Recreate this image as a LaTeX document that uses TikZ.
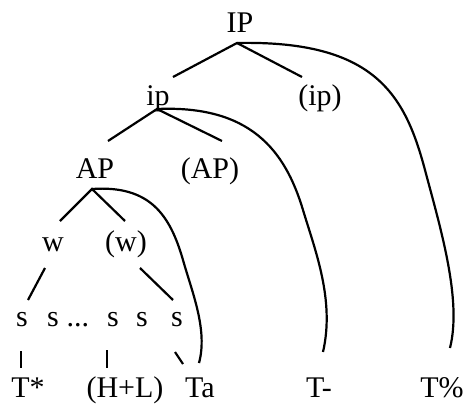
\documentclass[tikz,border=0pt]{standalone}
\usepackage{fontspec}
\setmainfont{Liberation Serif}
\begin{document}
\begin{tikzpicture}[x=1pt, y=-1pt,
  lbl/.style={anchor=base, inner sep=0pt, font=\fontsize{30}{35}\selectfont},
  branch/.style={draw=black, line width=2.2pt},
  tune/.style={draw=black, line width=2.2pt}]
\useasboundingbox (0,0) rectangle (467,407);

% prosodic constituents
\node[lbl] (IP)  at (240,32)  {IP};
\node[lbl] (ip)  at (158,105) {ip};
\node[lbl] (ipo) at (320,105) {(ip)};
\node[lbl] (AP)  at (95,178)  {AP};
\node[lbl] (APo) at (210,178) {(AP)};
\node[lbl] (w)   at (53,251)  {w};
\node[lbl] (wo)  at (126,251) {(w)};

% syllables
\node[lbl] (s1) at (22,326)  {s};
\node[lbl] (s2) at (53,326)  {s};
\node[lbl] (sd) at (78,326)  {...};
\node[lbl] (s3) at (113,326) {s};
\node[lbl] (s4) at (142,326) {s};
\node[lbl] (s5) at (177,326) {s};

% tones
\node[lbl] (Tstar) at (28,397)  {T*};
\node[lbl] (HL)    at (125,397) {(H+L)};
\node[lbl] (Ta)    at (200,397) {Ta};
\node[lbl] (Tmin)  at (319,397) {T-};
\node[lbl] (Tpct)  at (442,397) {T\%};

% branching points and line ends
\coordinate (IPf)   at (237,43);
\coordinate (ipT)   at (173,77);
\coordinate (ipoT)  at (302,77);
\coordinate (ipf)   at (157,109);
\coordinate (APT)   at (108,141);
\coordinate (APoT)  at (222,141);
\coordinate (APf)   at (92,189);
\coordinate (wT)    at (60,221);
\coordinate (woT)   at (125,221);
\coordinate (wf)    at (45,268);
\coordinate (s1T)   at (28,300);
\coordinate (wof)   at (140,268);
\coordinate (s5T)   at (173,300);
\coordinate (s1f)   at (21,351);
\coordinate (TstarT) at (21,368);
\coordinate (s3f)   at (107,350);
\coordinate (HLT)   at (107,368);
\coordinate (s5f)   at (175,352);
\coordinate (TaT)   at (183,364);
\coordinate (TaA)   at (199,363);
\coordinate (TminT) at (323,352);
\coordinate (TpctT) at (450,348);

% constituent branches
\draw[branch] (ipT) -- (IPf) -- (ipoT);
\draw[branch] (APT) -- (ipf) -- (APoT);
\draw[branch] (wT) -- (APf) -- (woT);
\draw[branch] (wf) -- (s1T);
\draw[branch] (wof) -- (s5T);
\draw[branch] (s1f) -- (TstarT);
\draw[branch] (s3f) -- (HLT);
\draw[branch] (s5f) -- (TaT);

% edge tone associations
\draw[tune] (APf) .. controls (150,185) and (170,215) .. (183,260)
                  .. controls (192,292) and (208,330) .. (TaA);
\draw[tune] (ipf) .. controls (250,105) and (285,150) .. (303,210)
                  .. controls (315,250) and (335,300) .. (TminT);
\draw[tune] (IPf) .. controls (375,40) and (405,95) .. (425,170)
                  .. controls (441,230) and (462,300) .. (TpctT);
\end{tikzpicture}
\end{document}
